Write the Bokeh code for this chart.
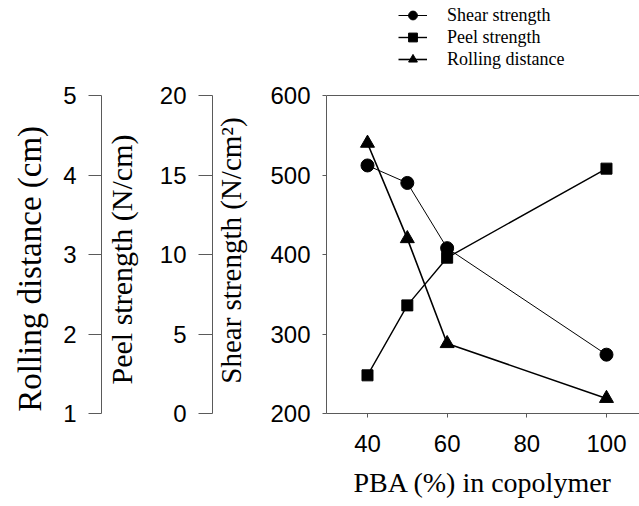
from bokeh.plotting import figure
from bokeh.models import LinearAxis, Range1d, FixedTicker, Legend, LegendItem, Span
from bokeh.embed import file_html
from bokeh.resources import INLINE

# ---- data ----
pba = [40, 50, 60, 100]
shear_strength = [512, 490, 408, 274]
peel_strength = [2.4, 6.8, 9.8, 15.4]
rolling_distance = [4.40, 3.20, 1.88, 1.19]

x_ticks = [40, 60, 80, 100]
shear_ticks = [200, 300, 400, 500, 600]
peel_ticks = [0, 5, 10, 15, 20]
rolling_ticks = [1, 2, 3, 4, 5]

AX = "#5a5a5a"
SANS = "Liberation Sans"
SERIF = "Liberation Serif"
NB = "\u00a0"  # non-breaking spaces shift the rotated titles down along their axes

# frame runs from the top of the canvas so the legend above the data box
# stays inside it; axes are bounded to their printed ranges
p = figure(width=639, height=506, output_backend="svg", toolbar_location=None,
           x_range=Range1d(29.71, 108.29), y_range=Range1d(200, 719.5),
           min_border_left=326, min_border_top=0, min_border_bottom=93,
           min_border_right=0)
p.outline_line_color = None
p.grid.visible = False
p.extra_y_ranges = {"peel": Range1d(0, 25.975), "roll": Range1d(1, 6.195)}


def style_axis(ax, tick_out, standoff, label, label_size, label_standoff):
    ax.axis_line_color = AX
    ax.major_tick_line_color = AX
    ax.major_tick_out = tick_out
    ax.major_tick_in = 0
    ax.minor_tick_line_color = None
    ax.minor_tick_out = 0
    ax.minor_tick_in = 0
    ax.major_label_text_font = SANS
    ax.major_label_text_font_size = "24px"
    ax.major_label_text_color = "black"
    ax.major_label_standoff = standoff
    ax.axis_label = label
    ax.axis_label_text_font = SERIF
    ax.axis_label_text_font_size = label_size
    ax.axis_label_text_font_style = "normal"
    ax.axis_label_text_color = "black"
    ax.axis_label_standoff = label_standoff


# shear strength axis (innermost)
ya = p.yaxis[0]
ya.ticker = FixedTicker(ticks=shear_ticks)
ya.bounds = (shear_ticks[0], shear_ticks[-1])
style_axis(ya, 4, 12, "Shear strength (N/cm²)" + NB * 12, "29px", 20)

peel_ax = LinearAxis(y_range_name="peel", ticker=FixedTicker(ticks=peel_ticks),
                     bounds=(peel_ticks[0], peel_ticks[-1]))
style_axis(peel_ax, 14, 12, "Peel strength (N/cm)" + NB * 14, "30px", 19)
p.add_layout(peel_ax, "left")

roll_ax = LinearAxis(y_range_name="roll", ticker=FixedTicker(ticks=rolling_ticks),
                     bounds=(rolling_ticks[0], rolling_ticks[-1]))
style_axis(roll_ax, 13, 12, "Rolling distance (cm)" + NB * 15, "33px", 12)
p.add_layout(roll_ax, "left")

# x axis
xa = p.xaxis[0]
xa.ticker = FixedTicker(ticks=x_ticks)
style_axis(xa, 4, 17, "PBA (%) in copolymer", "28px", 12)

# top edge of the data box at the top of the shear scale
p.add_layout(Span(location=shear_ticks[-1], dimension="width",
                  line_color=AX, line_width=1))

# series
l1 = p.line(pba, shear_strength, line_color="black", line_width=1)
m1 = p.scatter(pba, shear_strength, marker="circle", size=13, color="black")
l2 = p.line(pba, peel_strength, y_range_name="peel", line_color="black", line_width=1.4)
m2 = p.scatter(pba, peel_strength, y_range_name="peel", marker="square", size=11, color="black")
l3 = p.line(pba, rolling_distance, y_range_name="roll", line_color="black", line_width=1.6)
m3 = p.scatter(pba, rolling_distance, y_range_name="roll", marker="triangle", size=14, color="black")

legend = Legend(items=[LegendItem(label="Shear strength", renderers=[l1, m1]),
                       LegendItem(label="Peel strength", renderers=[l2, m2]),
                       LegendItem(label="Rolling distance", renderers=[l3, m3])],
                location=(72, 343), orientation="vertical",
                glyph_width=29, glyph_height=22, label_height=18, spacing=0,
                padding=0, margin=0, border_line_color=None,
                background_fill_alpha=0, label_standoff=20,
                label_text_font=SERIF, label_text_font_size="18px",
                label_text_color="black")
p.add_layout(legend)

open("out.html", "w").write(file_html(p, INLINE))
